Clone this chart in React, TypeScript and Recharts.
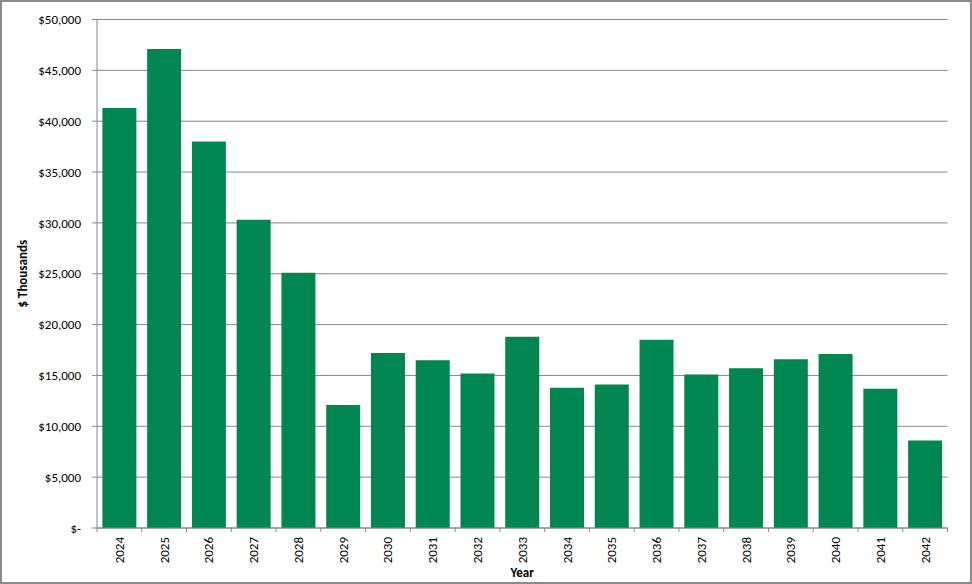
import { BarChart, Bar, XAxis, YAxis, CartesianGrid } from "recharts";

const YEARS = ["2024", "2025", "2026", "2027", "2028", "2029", "2030", "2031", "2032", "2033", "2034", "2035", "2036", "2037", "2038", "2039", "2040", "2041", "2042"];
const VALUES = [41300, 47100, 38000, 30300, 25100, 12100, 17200, 16500, 15200, 18800, 13800, 14100, 18500, 15100, 15700, 16600, 17100, 13700, 8600];
const Y_TICKS = [0, 5000, 10000, 15000, 20000, 25000, 30000, 35000, 40000, 45000, 50000];

const data = YEARS.map((year, i) => ({ year, value: VALUES[i] }));

const FONT = "Carlito, Calibri, 'Liberation Sans', sans-serif";
const GRAY = "#878787";
const GREEN = "#008751";
const BAND = (947.5 - 97) / YEARS.length;

const fmtY = (v: number) => (v === 0 ? "$-" : "$" + v.toLocaleString("en-US"));

const XTick = ({ x, y, payload, index }: any) => {
  const last = index === YEARS.length - 1;
  return (
    <g>
      <line x1={x - BAND / 2} x2={x - BAND / 2} y1={y - 8} y2={y - 4} stroke={GRAY} />
      {last && <line x1={x + BAND / 2} x2={x + BAND / 2} y1={y - 8} y2={y - 4} stroke={GRAY} />}
      <text
        x={x}
        y={y + 1}
        transform={`rotate(-90, ${x}, ${y + 1})`}
        textAnchor="end"
        dominantBaseline="central"
        fontSize={13}
        fontFamily={FONT}
        fill="#000"
      >
        {payload.value}
      </text>
    </g>
  );
};

export default function App() {
  return (
    <div
      style={{
        position: "absolute",
        left: 0,
        top: 0,
        width: 972,
        height: 584,
        boxSizing: "border-box",
        border: "2px solid #8a8a8a",
        background: "#fff",
      }}
    >
      <div style={{ position: "absolute", left: -2, top: -2 }}>
        <BarChart width={972} height={584} data={data} margin={{ top: 19.5, right: 24.5, left: 0, bottom: 0 }} barCategoryGap="12%">
          <CartesianGrid horizontal vertical={false} stroke={GRAY} strokeWidth={1} />
          <XAxis
            dataKey="year"
            height={56}
            interval={0}
            tick={<XTick />}
            tickLine={false}
            axisLine={{ stroke: GRAY }}
            label={{
              value: "Year",
              position: "insideBottom",
              offset: 7,
              style: { fontFamily: FONT, fontSize: 13, fontWeight: "bold", fill: "#000" },
            }}
          />
          <YAxis
            width={97}
            domain={[0, 50000]}
            ticks={Y_TICKS}
            interval={0}
            tickFormatter={fmtY}
            tickSize={5}
            tickMargin={11}
            tickLine={{ stroke: GRAY }}
            axisLine={{ stroke: GRAY }}
            tick={{ fontSize: 13, fontFamily: FONT, fill: "#000" }}
            label={{
              value: "$ Thousands",
              angle: -90,
              position: "insideLeft",
              offset: 22,
              style: { fontFamily: FONT, fontSize: 13, fontWeight: "bold", fill: "#000", textAnchor: "middle" },
            }}
          />
          <Bar dataKey="value" fill={GREEN} isAnimationActive={false} />
        </BarChart>
      </div>
    </div>
  );
}
